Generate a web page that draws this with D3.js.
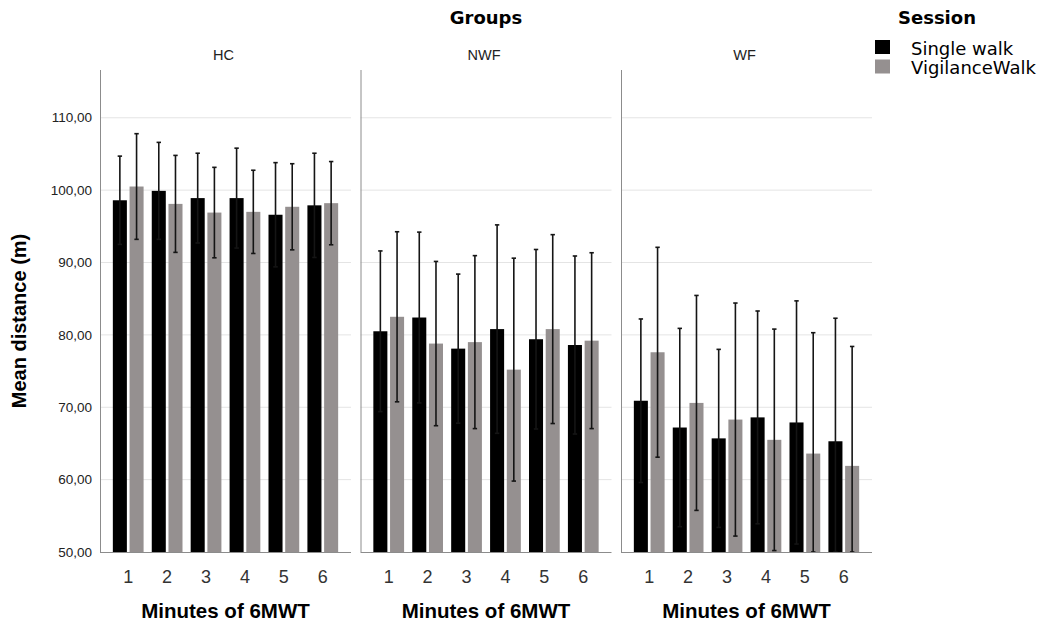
<!DOCTYPE html>
<html>
<head>
<meta charset="utf-8">
<script src="https://cdn.jsdelivr.net/npm/d3@7"></script>
<style>
  body { margin: 0; background: #fff; }
  svg { display: block; }
</style>
</head>
<body>
<div id="chart-container"></div>
<script>
// data
const groups = ["HC", "NWF", "WF"];
const minutes = ["1", "2", "3", "4", "5", "6"];
const sessions = ["Single walk", "VigilanceWalk"];
const yTicks = [50, 60, 70, 80, 90, 100, 110];

const hcSingle = [98.6, 99.9, 98.9, 98.9, 96.6, 97.9];
const hcSingleErr = [6.1, 6.7, 6.2, 6.9, 7.2, 7.2];
const hcVigil = [100.5, 98.1, 96.9, 97.0, 97.7, 98.2];
const hcVigilErr = [7.3, 6.7, 6.25, 5.75, 5.95, 5.75];

const nwfSingle = [80.5, 82.4, 78.1, 80.8, 79.4, 78.6];
const nwfSingleErr = [11.1, 11.8, 10.3, 14.4, 12.4, 12.3];
const nwfVigil = [82.5, 78.8, 79.0, 75.2, 80.8, 79.2];
const nwfVigilErr = [11.75, 11.35, 11.95, 15.4, 13.05, 12.15];

const wfSingle = [70.9, 67.2, 65.7, 68.6, 67.9, 65.3];
const wfSingleErr = [11.3, 13.7, 12.3, 14.7, 16.8, 17.0];
const wfVigil = [77.6, 70.6, 68.3, 65.5, 63.6, 61.9];
const wfVigilErr = [14.5, 14.85, 16.1, 15.3, 16.7, 16.5];

const means = { HC: [hcSingle, hcVigil], NWF: [nwfSingle, nwfVigil], WF: [wfSingle, wfVigil] };
const errs = { HC: [hcSingleErr, hcVigilErr], NWF: [nwfSingleErr, nwfVigilErr], WF: [wfSingleErr, wfVigilErr] };

// 1. Setup
const width = 1046, height = 625;
const plotTop = 70, plotBottom = 552;
const panelW = 251, panelStep = 260.5, left = 100;

const svg = d3.select("#chart-container")
    .append("svg")
    .attr("width", width)
    .attr("height", height);

const y = d3.scaleLinear().domain([50, 116.6]).range([plotBottom, plotTop]);
const x = d3.scaleBand().domain(minutes).range([0, panelW]).paddingInner(0.21).paddingOuter(0.33);
const xs = d3.scaleBand().domain(sessions).range([0, x.bandwidth()]).paddingInner(0.16);
const color = d3.scaleOrdinal().domain(sessions).range(["#000000", "#959090"]);

const arial = "'Liberation Sans', Arial, sans-serif";
const verdana = "'DejaVu Sans', Verdana, sans-serif";

// top title
svg.append("text")
    .attr("x", left + (2 * panelStep + panelW) / 2)
    .attr("y", 24)
    .attr("text-anchor", "middle")
    .style("font-family", verdana)
    .style("font-weight", "bold")
    .style("font-size", "18px")
    .text("Groups");

// y axis title
svg.append("text")
    .attr("transform", "translate(26,321) rotate(-90)")
    .attr("text-anchor", "middle")
    .style("font-family", arial)
    .style("font-weight", "bold")
    .style("font-size", "20px")
    .text("Mean distance (m)");

// y tick labels
svg.append("g")
    .selectAll("text")
    .data(yTicks)
    .join("text")
    .attr("x", 92)
    .attr("y", d => y(d))
    .attr("dy", "0.35em")
    .attr("text-anchor", "end")
    .style("font-family", arial)
    .style("font-size", "13.5px")
    .style("fill", "#222")
    .text(d => d3.format(".2f")(d).replace(".", ","));

// 2. Panels
groups.forEach((g, gi) => {
    const p = svg.append("g").attr("transform", `translate(${left + gi * panelStep},0)`);

    // grid
    p.append("g")
        .selectAll("line")
        .data(yTicks.filter(t => t > 50))
        .join("line")
        .attr("x1", 0).attr("x2", panelW)
        .attr("y1", d => y(d)).attr("y2", d => y(d))
        .attr("stroke", "#e4e4e4")
        .attr("stroke-width", 1);

    // bars
    const rows = [];
    sessions.forEach((s, si) => {
        minutes.forEach((m, mi) => {
            rows.push({ s, m, v: means[g][si][mi], e: errs[g][si][mi] });
        });
    });

    p.append("g")
        .selectAll("rect")
        .data(rows)
        .join("rect")
        .attr("x", d => x(d.m) + xs(d.s))
        .attr("width", xs.bandwidth())
        .attr("y", d => y(d.v))
        .attr("height", d => plotBottom - y(d.v))
        .attr("fill", d => color(d.s));

    // error bars
    const eb = p.append("g")
        .selectAll("g")
        .data(rows)
        .join("g")
        .attr("transform", d => `translate(${x(d.m) + xs(d.s) + xs.bandwidth() / 2},0)`)
        .attr("stroke", "#151515")
        .attr("stroke-width", 1.6);

    const lo = d => y(Math.max(50, d.v - d.e));
    const hi = d => y(d.v + d.e);

    eb.append("line").attr("y1", lo).attr("y2", hi);
    eb.append("line").attr("x1", -2.2).attr("x2", 2.2).attr("y1", hi).attr("y2", hi);
    eb.append("line").attr("x1", -2.2).attr("x2", 2.2).attr("y1", lo).attr("y2", lo);

    // panel frame
    p.append("line")
        .attr("x1", 0.5).attr("x2", 0.5)
        .attr("y1", plotTop).attr("y2", plotBottom)
        .attr("stroke", "#8c8c8c");
    p.append("line")
        .attr("x1", 0).attr("x2", panelW)
        .attr("y1", plotBottom + 0.5).attr("y2", plotBottom + 0.5)
        .attr("stroke", "#8c8c8c");

    // panel title
    p.append("text")
        .attr("x", panelW / 2 - 2)
        .attr("y", 60)
        .attr("text-anchor", "middle")
        .style("font-family", arial)
        .style("font-size", "14.5px")
        .style("fill", "#222")
        .text(g);

    // x tick labels
    p.append("g")
        .selectAll("text")
        .data(minutes)
        .join("text")
        .attr("x", d => x(d) + x.bandwidth() / 2)
        .attr("y", 583)
        .attr("text-anchor", "middle")
        .style("font-family", arial)
        .style("font-size", "18px")
        .style("fill", "#333")
        .text(d => d);

    // x axis title
    p.append("text")
        .attr("x", panelW / 2)
        .attr("y", 618)
        .attr("text-anchor", "middle")
        .style("font-family", arial)
        .style("font-weight", "bold")
        .style("font-size", "20.5px")
        .text("Minutes of 6MWT");
});

// 3. Legend
svg.append("text")
    .attr("x", 898)
    .attr("y", 24)
    .style("font-family", verdana)
    .style("font-weight", "bold")
    .style("font-size", "18px")
    .text("Session");

const legend = svg.append("g")
    .selectAll("g")
    .data(sessions)
    .join("g")
    .attr("transform", (d, i) => `translate(875,${40 + i * 19.5})`);

legend.append("rect")
    .attr("width", 15)
    .attr("height", 14)
    .attr("fill", d => color(d));

legend.append("text")
    .attr("x", 36)
    .attr("y", 14.5)
    .style("font-family", verdana)
    .style("font-size", "18px")
    .text(d => d);
</script>
</body>
</html>
